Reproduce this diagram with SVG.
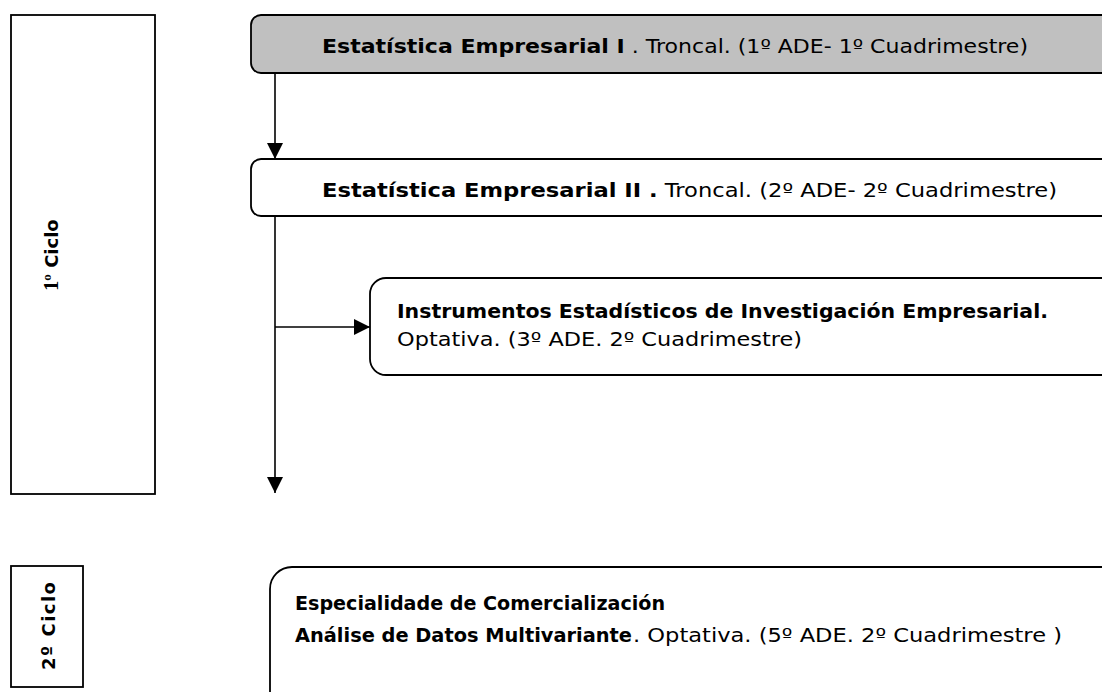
<svg xmlns="http://www.w3.org/2000/svg" width="1102" height="692" viewBox="0 0 1102 692">
<style>
.box{fill:#fff;stroke:#000;stroke-width:1.8}
.gray{fill:#c0c0c0}
.t{font-family:"DejaVu Sans","Liberation Sans",sans-serif;font-size:19px;fill:#000}
.b{font-weight:bold}
.lbl{font-family:"DejaVu Sans","Liberation Sans",sans-serif;font-size:18px;font-weight:bold;fill:#000}
.ser{font-family:"Liberation Serif",serif}
.ln{stroke:#000;stroke-width:1.6;fill:none}
</style>
<defs>
<marker id="ahv" markerWidth="16" markerHeight="16" refX="16" refY="8" orient="auto" markerUnits="userSpaceOnUse" viewBox="0 0 16 16">
<path d="M0,0 L16,8 L0,16 Z" fill="#000"/>
</marker>
</defs>
<g id="ciclo1">
<rect class="box" x="11" y="15" width="144" height="479"/>
<text class="lbl" transform="translate(58,255) rotate(-90)" text-anchor="middle"><tspan class="ser" font-size="20">1º</tspan> Ciclo</text>
</g>
<g id="ciclo2">
<rect class="box" x="11" y="566" width="72" height="121"/>
<text class="lbl" transform="translate(55,626) rotate(-90)" text-anchor="middle" font-size="19" textLength="88" lengthAdjust="spacing">2º  Ciclo</text>
</g>
<g id="connectors">
<line class="ln" x1="275" y1="73" x2="275" y2="159" marker-end="url(#ahv)"/>
<line class="ln" x1="275" y1="216" x2="275" y2="493" marker-end="url(#ahv)"/>
<line class="ln" x1="275" y1="327" x2="370" y2="327" marker-end="url(#ahv)"/>
</g>
<g id="est1">
<rect class="box gray" x="251" y="15" width="880" height="58" rx="10"/>
<text class="t" x="322" y="53" textLength="706" lengthAdjust="spacingAndGlyphs"><tspan class="b">Estatística Empresarial I</tspan> . Troncal. (1º ADE- 1º Cuadrimestre)</text>
</g>
<g id="est2">
<rect class="box" x="251" y="159" width="880" height="57" rx="10"/>
<text class="t" x="322" y="197" textLength="735" lengthAdjust="spacingAndGlyphs"><tspan class="b">Estatística Empresarial II .</tspan>  Troncal. (2º ADE- 2º Cuadrimestre)</text>
</g>
<g id="instrumentos">
<rect class="box" x="370" y="278" width="760" height="97" rx="16"/>
<text class="t b" x="397" y="318" textLength="651" lengthAdjust="spacingAndGlyphs">Instrumentos Estadísticos de Investigación Empresarial.</text>
<text class="t" x="397" y="346" textLength="405" lengthAdjust="spacingAndGlyphs">Optativa. (3º ADE. 2º Cuadrimestre)</text>
</g>
<g id="multivariante">
<rect class="box" x="270" y="567" width="860" height="160" rx="22"/>
<text class="t b" x="295" y="610" textLength="370" lengthAdjust="spacingAndGlyphs">Especialidade de Comercialización</text>
<text class="t b" x="295" y="642" textLength="337" lengthAdjust="spacingAndGlyphs">Análise de Datos Multivariante</text>
<text class="t" x="633" y="642" textLength="429" lengthAdjust="spacingAndGlyphs">. Optativa. (5º ADE. 2º Cuadrimestre )</text>
</g>
</svg>
